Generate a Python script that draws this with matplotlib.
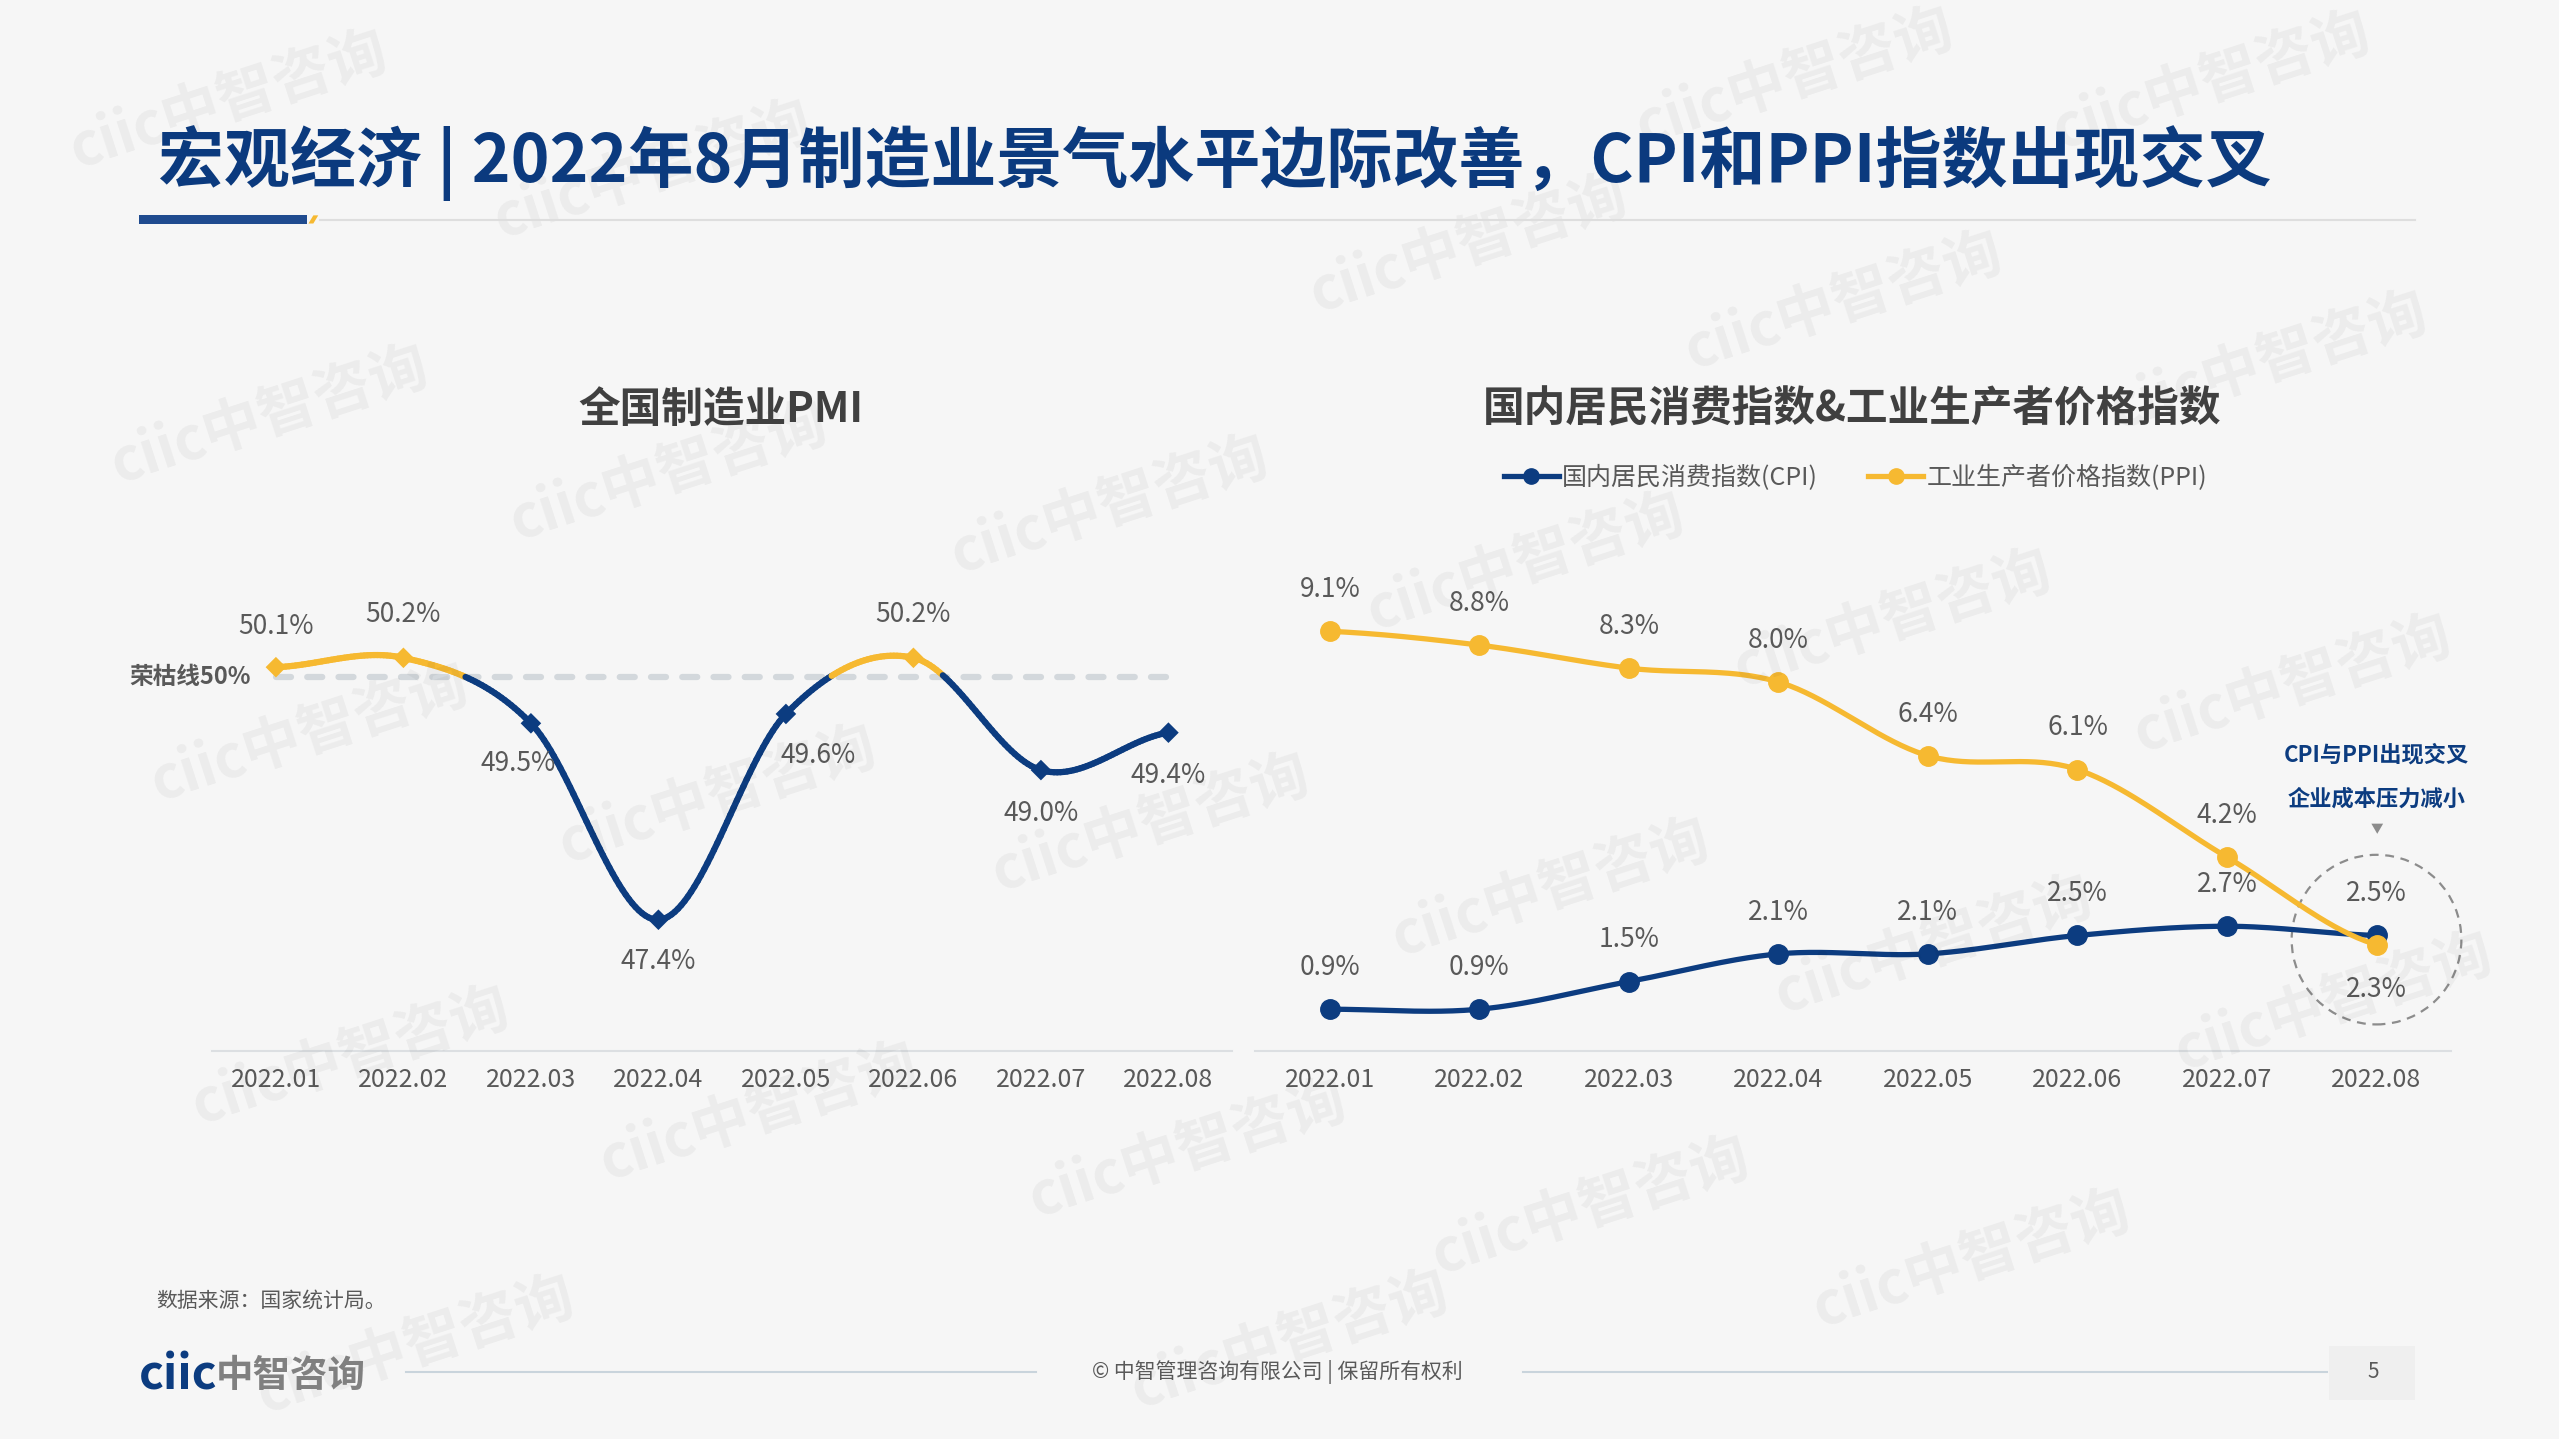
import numpy as np
import matplotlib
matplotlib.use('Agg')
import matplotlib.pyplot as plt
from matplotlib.collections import LineCollection
from matplotlib.patches import Ellipse, Rectangle, Polygon
from matplotlib.lines import Line2D

plt.rcParams['font.family'] = ['Noto Sans CJK SC', 'DejaVu Sans']

# data
months = ['2022.01', '2022.02', '2022.03', '2022.04', '2022.05', '2022.06', '2022.07', '2022.08']
pmi = [50.1, 50.2, 49.5, 47.4, 49.6, 50.2, 49.0, 49.4]
pmi_line = 50
cpi = [0.9, 0.9, 1.5, 2.1, 2.1, 2.5, 2.7, 2.5]
ppi = [9.1, 8.8, 8.3, 8.0, 6.4, 6.1, 4.2, 2.3]

NAVY = '#0c3c80'
GOLD = '#f6b931'
TXT = '#595959'
TITLE_GRAY = '#404040'

# layout helpers: positions measured on a 1568x882 view of the slide
W, H = 1568, 882
def fx(x):
    return x / W
def fy(y):
    return 1 - y / H


def smooth(vals, n=40):
    # catmull-rom through the points, evenly spaced x
    v = np.asarray(vals, dtype=float)
    p = np.r_[v[0], v, v[-1]]
    t = np.linspace(0, 1, n)
    xs, ys = [], []
    for i in range(len(v) - 1):
        p0, p1, p2, p3 = p[i], p[i + 1], p[i + 2], p[i + 3]
        y = 0.5 * ((2 * p1) + (-p0 + p2) * t + (2 * p0 - 5 * p1 + 4 * p2 - p3) * t ** 2
                   + (-p0 + 3 * p1 - 3 * p2 + p3) * t ** 3)
        xs.append(i + t)
        ys.append(y)
    return np.concatenate(xs), np.concatenate(ys)


fig = plt.figure(figsize=(25.59, 14.39), dpi=100, facecolor='#f6f6f6')

# watermarks
wm = [(140, 62), (400, 105), (1100, 48), (1355, 50), (900, 150), (1130, 185), (1390, 222),
      (165, 255), (410, 290), (680, 310), (935, 345), (1160, 380), (1405, 420),
      (190, 450), (440, 488), (705, 505), (950, 545), (1185, 580), (1430, 615),
      (215, 648), (465, 682), (728, 705), (975, 740), (1208, 772), (255, 825), (790, 822)]
for cx, cy in wm:
    fig.text(fx(cx), fy(cy), 'ciic中智咨询', fontsize=42, weight='bold', color='black',
             alpha=0.045, rotation=18, ha='center', va='center', zorder=0)

# title
fig.text(fx(97), fy(100), '宏观经济 | 2022年8月制造业景气水平边际改善，CPI和PPI指数出现交叉',
         fontsize=47.5, weight='bold', color='#0b3a7e', va='center', ha='left')
fig.add_artist(Rectangle((fx(85), fy(137)), fx(188) - fx(85), fy(132) - fy(137),
                         transform=fig.transFigure, color='#1f4b8f', lw=0))
fig.add_artist(Polygon([(fx(189), fy(137)), (fx(192), fy(137)), (fx(195), fy(132)), (fx(192), fy(132))],
                       closed=True, transform=fig.transFigure, color=GOLD, lw=0))
fig.add_artist(Line2D([fx(196), fx(1480)], [fy(135), fy(135)], transform=fig.transFigure,
                      color='#dedede', lw=1.5))

# ---- left chart: PMI ----
fig.text(fx(442), fy(251), '全国制造业PMI', fontsize=30, weight='bold', color=TITLE_GRAY,
         ha='center', va='center')
ax1 = fig.add_axes([fx(130), fy(644), fx(755) - fx(130), fy(300) - fy(644)])
ax1.set_facecolor('none')
x = np.arange(len(months))
ax1.set_xlim(-0.5, len(months) - 0.5)
ax1.set_ylim(46, 52)

ax1.hlines(pmi_line, x[0], x[-1], colors='#d3d8dc', lw=4.5, linestyles=(0, (2.4, 2.6)),
           zorder=2, capstyle='round')
xs, ys = smooth(pmi)
pts = np.column_stack([xs, ys])
segs = np.stack([pts[:-1], pts[1:]], axis=1)
seg_cols = [GOLD if (a[1] + b[1]) / 2 >= pmi_line else NAVY for a, b in segs]
ax1.add_collection(LineCollection(segs, colors=seg_cols, linewidths=4.5, capstyle='round', zorder=3))
ax1.scatter(x, pmi, marker='D', s=110, c=[GOLD if v >= pmi_line else NAVY for v in pmi],
            zorder=4, linewidths=0)

pmi_off = [(0, 29), (0, 31), (-9, -29), (0, -30), (23, -30), (0, 31), (0, -31), (0, -31)]
for xi, v, off in zip(x, pmi, pmi_off):
    ax1.annotate(f'{v:.1f}%', (xi, v), xytext=off, textcoords='offset points',
                 ha='center', va='center', fontsize=19, color=TXT, zorder=5)
ax1.text(-0.2, pmi_line, '荣枯线50%', ha='right', va='center', fontsize=17, weight='bold', color=TXT)

ax1.set_xticks(x)
ax1.set_xticklabels(months, fontsize=18, color=TXT)
ax1.set_yticks([])
ax1.tick_params(axis='x', length=0, pad=12)
for s in ['top', 'right', 'left']:
    ax1.spines[s].set_visible(False)
ax1.spines['bottom'].set_color('#dcdfe2')
ax1.spines['bottom'].set_linewidth(1.5)

# ---- right chart: CPI & PPI ----
fig.text(fx(1135), fy(251), '国内居民消费指数&工业生产者价格指数', fontsize=30, weight='bold',
         color=TITLE_GRAY, ha='center', va='center')
ax2 = fig.add_axes([fx(769), fy(644), fx(1502) - fx(769), fy(305) - fy(644)])
ax2.set_facecolor('none')
ax2.set_xlim(-0.5, len(months) - 0.5)
ax2.set_ylim(0, 12)

xs, ys = smooth(cpi)
ax2.plot(xs, ys, color=NAVY, lw=3.8, zorder=3, solid_capstyle='round')
ax2.plot(x, cpi, 'o', color=NAVY, ms=14, zorder=4)
xs, ys = smooth(ppi)
ax2.plot(xs, ys, color=GOLD, lw=3.8, zorder=5, solid_capstyle='round')
ax2.plot(x, ppi, 'o', color=GOLD, ms=14, zorder=6)

for xi, v in zip(x, ppi):
    dy = -32 if xi == x[-1] else 30
    ax2.annotate(f'{v:.1f}%', (xi, v), xytext=(0, dy), textcoords='offset points',
                 ha='center', va='center', fontsize=19, color=TXT, zorder=7)
for xi, v in zip(x, cpi):
    ax2.annotate(f'{v:.1f}%', (xi, v), xytext=(0, 30), textcoords='offset points',
                 ha='center', va='center', fontsize=19, color=TXT, zorder=7)

# crossing callout
ax2.add_patch(Ellipse((x[-1], 2.41), 1.135, 3.68, fill=False, ls=(0, (4, 3)), lw=1.6,
                      edgecolor='#8c8c8c', clip_on=False, zorder=2))
ax2.text(x[-1], 6.41, 'CPI与PPI出现交叉', ha='center', va='center', fontsize=16,
         weight='bold', color=NAVY)
ax2.text(x[-1], 5.45, '企业成本压力减小', ha='center', va='center', fontsize=16,
         weight='bold', color=NAVY)
ax2.text(x[-1], 4.8, '▼', ha='center', va='center', fontsize=9, color='#8c8c8c')

ax2.set_xticks(x)
ax2.set_xticklabels(months, fontsize=18, color=TXT)
ax2.set_yticks([])
ax2.tick_params(axis='x', length=0, pad=12)
for s in ['top', 'right', 'left']:
    ax2.spines[s].set_visible(False)
ax2.spines['bottom'].set_color('#dcdfe2')
ax2.spines['bottom'].set_linewidth(1.5)

handles = [Line2D([], [], color=NAVY, lw=3.8, marker='o', ms=11, label='国内居民消费指数(CPI)'),
           Line2D([], [], color=GOLD, lw=3.8, marker='o', ms=11, label='工业生产者价格指数(PPI)')]
fig.legend(handles=handles, loc='center', bbox_to_anchor=(fx(1137), fy(293)), ncol=2,
           frameon=False, fontsize=18, handlelength=2.2, handletextpad=0.15,
           columnspacing=2.0, labelcolor=TXT)

# footer
fig.text(fx(96), fy(797), '数据来源：国家统计局。', fontsize=15, color=TXT, va='center')
fig.text(fx(85), fy(843), 'ciic', fontsize=34, weight='bold', color=NAVY, va='center')
fig.text(fx(132), fy(843), '中智咨询', fontsize=27, weight='bold', color='#808080', va='center')
fig.add_artist(Line2D([fx(249), fx(635)], [fy(841), fy(841)], transform=fig.transFigure,
                      color='#c9d4dc', lw=1.5))
fig.add_artist(Line2D([fx(933), fx(1426)], [fy(841), fy(841)], transform=fig.transFigure,
                      color='#c9d4dc', lw=1.5))
fig.text(fx(783), fy(841), '© 中智管理咨询有限公司 | 保留所有权利', fontsize=15, color=TXT,
         ha='center', va='center')
fig.add_artist(Rectangle((fx(1427), fy(858)), fx(1480) - fx(1427), fy(825) - fy(858),
                         transform=fig.transFigure, color='#efefef', lw=0))
fig.text(fx(1454), fy(841), '5', fontsize=15, color=TXT, ha='center', va='center')

fig.savefig('out.png', dpi=100, facecolor=fig.get_facecolor())
